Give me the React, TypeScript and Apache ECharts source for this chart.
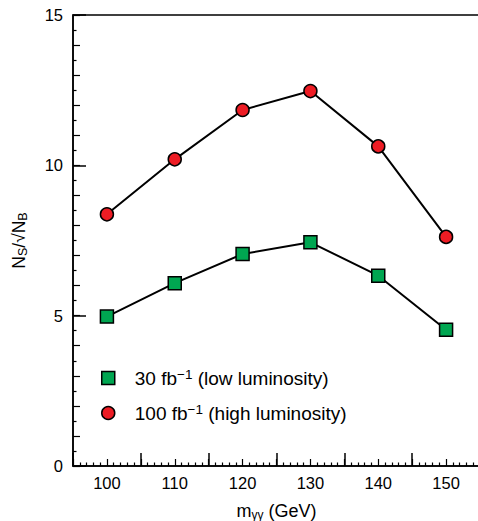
import React, { useEffect, useRef } from "react";
import * as echarts from "echarts";

const massCategories = [100, 110, 120, 130, 140, 150];
const lowLumiValues = [4.97, 6.08, 7.05, 7.44, 6.33, 4.53];
const highLumiValues = [8.37, 10.2, 11.84, 12.47, 10.63, 7.62];
const seriesNames = ["30 fb−1 (low luminosity)", "100 fb−1 (high luminosity)"];
const xTickLabels = ["100", "110", "120", "130", "140", "150"];
const yTickLabels = ["0", "5", "10", "15"];

const FONT = "'Liberation Sans', Arial, Helvetica, sans-serif";

export default function App() {
  const ref = useRef<HTMLDivElement>(null);
  useEffect(() => {
    if (!ref.current) return;
    const chart = echarts.init(ref.current, null, { renderer: "svg" });
    const black = "#000";
    const axisBase = {
      min: 0,
      max: 15,
      type: "value" as const,
      position: "left" as const,
      splitLine: { show: false },
    };
    const xBase = {
      min: 95,
      max: 155,
      type: "value" as const,
      position: "bottom" as const,
      splitLine: { show: false },
    };
    const option: any = {
      animation: false,
      backgroundColor: "#fff",
      textStyle: { fontFamily: FONT },
      grid: {
        left: 73,
        top: 15,
        width: 407,
        height: 451,
        outerBoundsMode: "none",
        containLabel: false,
        show: true,
        borderColor: black,
        borderWidth: 1.5,
        backgroundColor: "transparent",
      },
      xAxis: [
        {
          ...xBase,
          interval: 5,
          axisLine: { show: true, onZero: false, lineStyle: { color: black, width: 1.5 } },
          axisTick: { show: true, inside: true, length: 7, lineStyle: { color: black, width: 1.2 } },
          minorTick: { show: true, splitNumber: 5, length: 3.5, lineStyle: { color: black, width: 1.2 } },
          axisLabel: {
            show: true,
            margin: 8,
            color: black,
            fontSize: 16.5,
            fontFamily: FONT,
            showMinLabel: false,
            showMaxLabel: false,
            formatter: (v: number) => (xTickLabels.includes(String(v)) ? String(v) : ""),
          },
          name: "{n|m}{sub|γγ}{n| (GeV)}",
          nameLocation: "middle",
          nameGap: 35,
          nameTextStyle: {
            rich: {
              n: { fontSize: 18, color: black, fontFamily: FONT },
              sub: { fontSize: 12, color: black, fontFamily: FONT, verticalAlign: "bottom", padding: [8, 0, 0, 0] },
            },
          },
        },
        {
          ...xBase,
          interval: 10,
          axisLine: { show: false, onZero: false },
          axisTick: { show: true, inside: true, length: 13, lineStyle: { color: black, width: 1.5 } },
          axisLabel: { show: false },
        },
      ],
      yAxis: [
        {
          ...axisBase,
          interval: 1,
          axisLine: { show: true, lineStyle: { color: black, width: 1.5 } },
          axisTick: { show: true, inside: true, length: 7, lineStyle: { color: black, width: 1.2 } },
          minorTick: { show: true, splitNumber: 2, length: 3.5, lineStyle: { color: black, width: 1.2 } },
          axisLabel: { show: false },
          name: "{n|N}{sub|S}{n|/√N}{sub|B}",
          nameLocation: "middle",
          nameGap: 44,
          nameTextStyle: {
            rich: {
              n: { fontSize: 17.5, color: black, fontFamily: FONT },
              sub: { fontSize: 12.5, color: black, fontFamily: FONT, verticalAlign: "bottom", padding: [8, 0, 0, 0] },
            },
          },
        },
        {
          ...axisBase,
          interval: 5,
          axisLine: { show: false },
          axisTick: { show: true, inside: true, length: 13, lineStyle: { color: black, width: 1.5 } },
          axisLabel: {
            show: true,
            margin: 10,
            color: black,
            fontSize: 16.5,
            fontFamily: FONT,
            formatter: (v: number) => (yTickLabels.includes(String(v)) ? String(v) : ""),
          },
        },
      ],
      legend: {
        orient: "vertical",
        left: 96,
        top: 362,
        itemGap: 13,
        itemWidth: 13,
        itemHeight: 13,
        data: [
          { name: seriesNames[0], icon: "rect" },
          { name: seriesNames[1], icon: "circle" },
        ],
        itemStyle: { borderColor: black, borderWidth: 1.5 },
        formatter: (name: string) => {
          const i = seriesNames.indexOf(name);
          const parts = i === 0 ? ["30 fb", " (low luminosity)"] : ["100 fb", " (high luminosity)"];
          return `{a|${parts[0]}}{sup|−1}{a|${parts[1]}}`;
        },
        textStyle: {
          padding: [0, 0, 0, 15],
          rich: {
            a: { fontSize: 19, lineHeight: 22, color: black, fontFamily: FONT },
            sup: { fontSize: 13.5, lineHeight: 22, color: black, fontFamily: FONT, verticalAlign: "top", padding: [0, 0, 8, 0] },
          },
        },
      },
      series: [
        {
          name: seriesNames[0],
          type: "line",
          xAxisIndex: 0,
          yAxisIndex: 0,
          data: massCategories.map((m, i) => [m, lowLumiValues[i]]),
          symbol: "rect",
          symbolSize: 13,
          lineStyle: { color: black, width: 2 },
          itemStyle: { color: "#00a651", borderColor: black, borderWidth: 1.5 },
          z: 3,
        },
        {
          name: seriesNames[1],
          type: "line",
          xAxisIndex: 0,
          yAxisIndex: 0,
          data: massCategories.map((m, i) => [m, highLumiValues[i]]),
          symbol: "circle",
          symbolSize: 13,
          lineStyle: { color: black, width: 2 },
          itemStyle: { color: "#ed1c24", borderColor: black, borderWidth: 1.5 },
          z: 3,
        },
      ],
    };
    chart.setOption(option);
    return () => chart.dispose();
  }, []);
  return (
    <div
      style={{ position: "fixed", left: 0, top: 0, width: 478, height: 521, overflow: "hidden" }}
    >
      <div ref={ref} style={{ width: 484, height: 521 }} />
    </div>
  );
}
